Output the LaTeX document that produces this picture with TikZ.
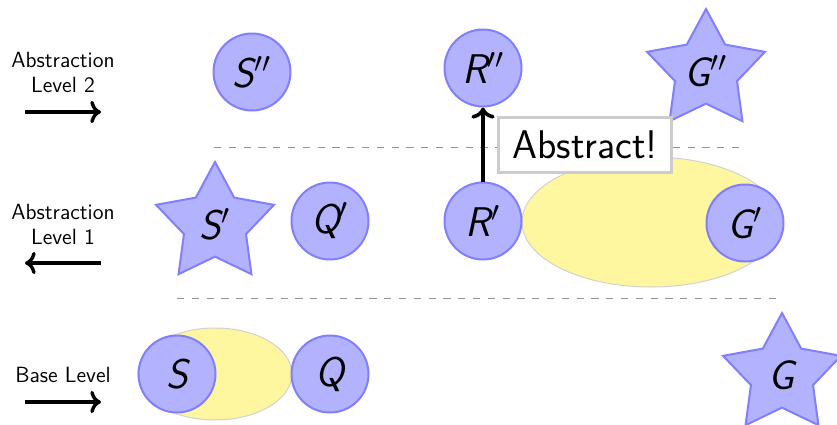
\documentclass[tikz,border=0pt]{standalone}
\usetikzlibrary{shapes.geometric,arrows.meta}
\renewcommand{\familydefault}{\sfdefault}
\definecolor{paleyellow}{RGB}{255,246,160}
\newcommand{\lbl}[2]{{\itshape #1}$^{#2}$}
\begin{document}
\begin{tikzpicture}[x=0.5pt,y=-0.5pt,
  st/.style={circle, draw=blue!50, fill=blue!30, line width=1pt, minimum size=38.5pt, inner sep=0pt, font=\huge},
  goal/.style={star, star points=5, star point ratio=1.9, draw=blue!50, fill=blue!30, line width=1pt, minimum size=62pt, inner sep=0pt, font=\huge},
  blob/.style={fill=paleyellow, draw=gray!35, line width=0.5pt},
  sep/.style={draw=gray!85, line width=0.5pt, dash pattern=on 3.6pt off 3.8pt},
  lvl/.style={align=center, font=\fontsize{11}{12.5}\selectfont},
  dirarrow/.style={->, line width=1.7pt},
  absarrow/.style={->, line width=1.8pt},
  abox/.style={draw=gray!40, fill=white, line width=1.5pt, minimum width=86.5pt, minimum height=27.5pt, inner sep=0pt, font=\fontsize{20}{22}\selectfont}
]
\useasboundingbox (0,0) rectangle (837,424);

% separators
\coordinate (d1a) at (214,147); \coordinate (d1b) at (743,147);
\coordinate (d2a) at (177,298); \coordinate (d2b) at (782,298);
\draw[sep] (d1a) -- (d1b);
\draw[sep] (d2a) -- (d2b);

% level labels
\node[lvl] (l2) at (63,72) {Abstraction\\Level 2};
\node[lvl] (l1) at (63,224) {Abstraction\\Level 1};
\node[lvl] (l0) at (63,375) {Base Level};
\coordinate (a2s) at (25,112); \coordinate (a2e) at (101,112);
\coordinate (a1s) at (101,263); \coordinate (a1e) at (25,263);
\coordinate (a0s) at (25,402); \coordinate (a0e) at (101,402);
\draw[dirarrow] (a2s) -- (a2e);
\draw[dirarrow] (a1s) -- (a1e);
\draw[dirarrow] (a0s) -- (a0e);

% yellow regions
\path[blob] (651,222) ellipse [x radius=64.5pt, y radius=32.5pt];
\path[blob] (215,374) ellipse [x radius=38.5pt, y radius=23pt];

% level 2
\node[st] (S2) at (252,72) {\lbl{S}{\prime\prime}};
\node[st] (R2) at (483,68) {\lbl{R}{\prime\prime}};
\node[goal] (G2) at (706,71) {\lbl{G}{\prime\prime}};

% level 1
\node[goal] (S1) at (215,224) {\lbl{S}{\prime}};
\node[st] (Q1) at (330,221) {\lbl{Q}{\prime}};
\node[st] (R1) at (483,221) {\lbl{R}{\prime}};
\node[st] (G1) at (745,223) {\lbl{G}{\prime}};

% base level
\node[st] (S0) at (177,374) {{\itshape S}};
\node[st] (Q0) at (330,374) {{\itshape Q}};
\node[goal] (G0) at (782,375) {{\itshape G}};

% abstraction
\draw[absarrow] (R1) -- (R2);
\node[abox] (abs) at (585,144.5) {Abstract!};
\end{tikzpicture}
\end{document}
